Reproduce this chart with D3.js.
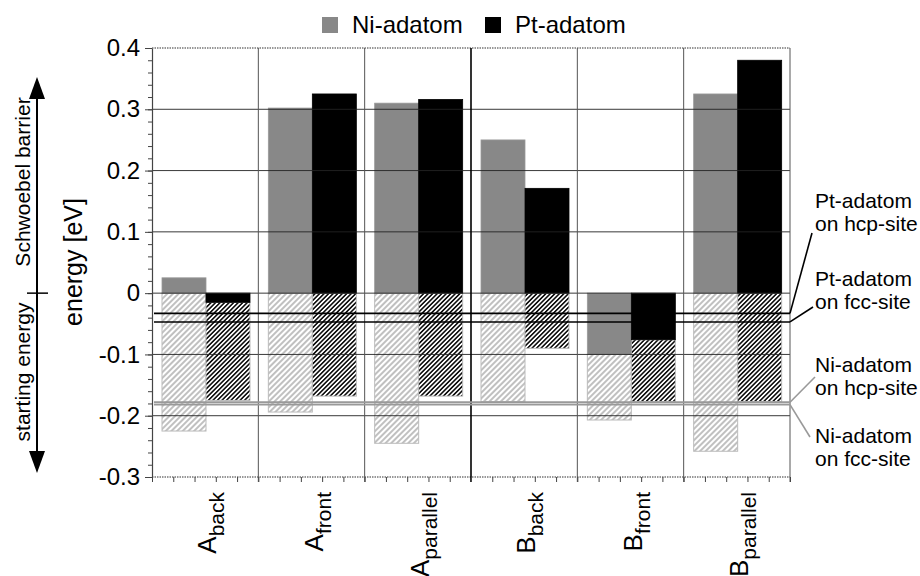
<!DOCTYPE html>
<meta charset="utf-8">
<style>
  body { margin: 0; background: #fff; }
  svg { font-family: 'Liberation Sans', Arial, sans-serif; }
  .tick text { font-size: 24px; fill: #000; }
  .domain { stroke: #444; }
</style>
<script src="https://d3js.org/d3.v7.min.js"></script>
<div id="chart"></div>
<script>
// data
const groups = ["A_back", "A_front", "A_parallel", "B_back", "B_front", "B_parallel"];
const groupMain = ["A", "A", "A", "B", "B", "B"];
const groupSub = ["back", "front", "parallel", "back", "front", "parallel"];
const niBarrier = [0.025, 0.302, 0.310, 0.250, -0.100, 0.325];
const ptBarrier = [-0.015, 0.325, 0.316, 0.171, -0.076, 0.380];
const niStart = [-0.225, -0.194, -0.245, -0.177, -0.207, -0.258];
const ptStart = [-0.175, -0.168, -0.168, -0.090, -0.177, -0.177];
const yTicks = [0.4, 0.3, 0.2, 0.1, 0, -0.1, -0.2, -0.3];
const refNames = [["Pt-adatom", "on hcp-site"], ["Pt-adatom", "on fcc-site"], ["Ni-adatom", "on hcp-site"], ["Ni-adatom", "on fcc-site"]];
const refEnergy = [-0.033, -0.047, -0.178, -0.182];
const legendNames = ["Ni-adatom", "Pt-adatom"];

const W = 920, H = 576;
const svg = d3.select("#chart").append("svg").attr("width", W).attr("height", H);

const y = d3.scaleLinear().domain([-0.3, 0.4]).range([477, 48]);
const x = d3.scaleBand().domain(groups).range([152, 790]);
const xs = d3.scaleBand().domain(["Ni", "Pt"]).range([10, 98]);
const left = 152, right = 790;

// hatch patterns
const defs = svg.append("defs");
function hatch(id, size, color, sw) {
  const p = defs.append("pattern").attr("id", id).attr("patternUnits", "userSpaceOnUse")
    .attr("width", size).attr("height", size).attr("patternTransform", "rotate(45)");
  p.append("rect").attr("width", size).attr("height", size).attr("fill", "#fff");
  p.append("line").attr("x1", size / 2).attr("x2", size / 2).attr("y1", 0).attr("y2", size)
    .attr("stroke", color).attr("stroke-width", sw);
}
hatch("hNi", 4, "#8c8c8c", 1.1);
hatch("hPt", 3.2, "#000", 1.5);

// build table
const rows = [];
groups.forEach((g, i) => {
  rows.push({g, s: "Ni", bar: niBarrier[i], start: niStart[i]});
  rows.push({g, s: "Pt", bar: ptBarrier[i], start: ptStart[i]});
});

// starting energy (hatched)
svg.append("g").selectAll("rect").data(rows).join("rect")
  .attr("x", d => x(d.g) + xs(d.s))
  .attr("width", xs.bandwidth())
  .attr("y", d => y(Math.min(0, d.bar)))
  .attr("height", d => y(d.start) - y(Math.min(0, d.bar)))
  .attr("fill", d => d.s === "Ni" ? "url(#hNi)" : "url(#hPt)")
  .attr("stroke", "#bbb").attr("stroke-width", 1);

// barriers (solid)
svg.append("g").selectAll("rect").data(rows).join("rect")
  .attr("x", d => x(d.g) + xs(d.s))
  .attr("width", xs.bandwidth())
  .attr("y", d => y(Math.max(0, d.bar)))
  .attr("height", d => Math.abs(y(d.bar) - y(0)))
  .attr("fill", d => d.s === "Ni" ? "#888" : "#000")
  .attr("stroke", d => d.s === "Ni" ? "#999" : "#000").attr("stroke-width", 0.8);

// grid lines
svg.append("g").selectAll("line").data(yTicks.filter(v => v < 0.35 && v > -0.25)).join("line")
  .attr("x1", left).attr("x2", right).attr("y1", d => y(d)).attr("y2", d => y(d))
  .attr("stroke", "#222").attr("stroke-width", 0.9);
[0.4, -0.3].forEach(v => {
  svg.append("line").attr("x1", left).attr("x2", right).attr("y1", y(v)).attr("y2", y(v))
    .attr("stroke", "#777").attr("stroke-width", 1.5).attr("stroke-dasharray", "1.5,1");
});
const bounds = groups.slice(1).map(g => x(g)).concat([right]);
svg.append("g").selectAll("line").data(bounds).join("line")
  .attr("x1", d => d).attr("x2", d => d).attr("y1", y(0.4)).attr("y2", y(-0.3) + 5)
  .attr("stroke", (d, i) => i === 2 ? "#000" : "#555")
  .attr("stroke-width", (d, i) => i === 2 ? 1.6 : 1);

// reference levels
const refColor = ["#000", "#000", "#999", "#999"];
const refEnd = [[812, 233], [813, 307], [815, 377], [810, 437]];
refEnergy.forEach((e, i) => {
  svg.append("line").attr("x1", left + 2).attr("x2", right).attr("y1", y(e)).attr("y2", y(e))
    .attr("stroke", refColor[i]).attr("stroke-width", i < 2 ? 1.6 : 1.8);
  svg.append("line").attr("x1", right).attr("y1", y(e))
    .attr("x2", refEnd[i][0]).attr("y2", refEnd[i][1])
    .attr("stroke", refColor[i]).attr("stroke-width", 1.6);
});
const refTextY = [201, 279, 365, 436];
refNames.forEach((n, i) => {
  const t = svg.append("text").attr("x", 815).attr("y", refTextY[i] + 7).style("font-size", "21px");
  t.append("tspan").attr("x", 815).text(n[0]);
  t.append("tspan").attr("x", 815).attr("dy", 23).text(n[1]);
});

// y axis with minor ticks
svg.append("g").attr("transform", `translate(${left},0)`)
  .call(d3.axisLeft(y).tickValues(d3.range(-30, 41, 2).map(v => v / 100)).tickSize(4).tickFormat(""))
  .call(g => g.selectAll(".tick line").attr("stroke", "#444"))
  .call(g => g.select(".domain").remove());
svg.append("g").attr("transform", `translate(${left},0)`)
  .call(d3.axisLeft(y).tickValues(yTicks).tickSizeInner(7).tickSizeOuter(0).tickPadding(5)
    .tickFormat(d => d === 0 ? "0" : d.toFixed(1)))
  .call(g => g.selectAll(".tick line").attr("stroke", "#444"))
  .call(g => g.select(".domain").attr("stroke", "#555").attr("stroke-width", 1.2));

// x axis minor ticks
const xm = d3.scaleLinear().domain([0, 30]).range([left, right]);
svg.append("g").attr("transform", `translate(0,${y(-0.3)})`)
  .call(d3.axisBottom(xm).tickValues(d3.range(0, 31)).tickSize(5).tickFormat(""))
  .call(g => g.selectAll(".tick line").attr("stroke", "#444"))
  .call(g => g.select(".domain").remove());

// x labels (rotated, with subscripts)
groups.forEach((g, i) => {
  const cx = x(g) + x.bandwidth() / 2 + 11;
  const t = svg.append("text").attr("transform", `translate(${cx},492) rotate(-90)`)
    .attr("text-anchor", "end");
  t.append("tspan").style("font-size", "26px").text(groupMain[i]);
  t.append("tspan").style("font-size", "21px").attr("dy", 8).text(groupSub[i]);
});

// axis title
svg.append("text").attr("transform", "translate(82,262) rotate(-90)")
  .attr("text-anchor", "middle").style("font-size", "25px").text("energy [eV]");

// left arrow annotation
const ax = 37;
svg.append("line").attr("x1", ax).attr("x2", ax).attr("y1", 95).attr("y2", 455)
  .attr("stroke", "#000").attr("stroke-width", 2);
svg.append("path").attr("d", `M${ax},77 L${ax - 8},99 L${ax + 8},99 Z`).attr("fill", "#000");
svg.append("path").attr("d", `M${ax},473 L${ax - 8},451 L${ax + 8},451 Z`).attr("fill", "#000");
svg.append("line").attr("x1", 27).attr("x2", 48).attr("y1", y(0)).attr("y2", y(0))
  .attr("stroke", "#000").attr("stroke-width", 1.5);
svg.append("text").attr("transform", "translate(30,182) rotate(-90)")
  .attr("text-anchor", "middle").style("font-size", "21px").text("Schwoebel barrier");
svg.append("text").attr("transform", "translate(30,372) rotate(-90)")
  .attr("text-anchor", "middle").style("font-size", "21px").text("starting energy");

// legend
const legX = [322, 485];
legendNames.forEach((n, i) => {
  svg.append("rect").attr("x", legX[i]).attr("y", 17).attr("width", 16).attr("height", 16)
    .attr("fill", i === 0 ? "#888" : "#000");
  svg.append("text").attr("x", legX[i] + 30).attr("y", 33).style("font-size", "24px").text(n);
});
</script>
